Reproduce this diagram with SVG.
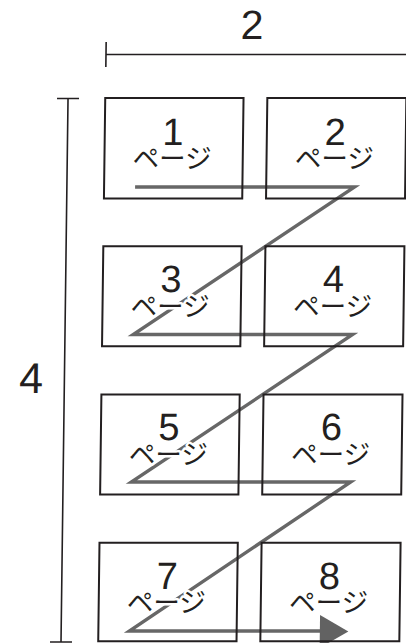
<svg xmlns="http://www.w3.org/2000/svg" width="406" height="643" viewBox="0 0 406 643">
<style>
.dim{stroke:#231f20;stroke-width:1.6;fill:none}
.dimtxt{font-family:"Liberation Sans",Arial,sans-serif;fill:#231f20;text-anchor:middle}
.box{fill:none;stroke:#231f20;stroke-width:2}
.lbl{fill:#231f20;text-anchor:middle;stroke:#fff;stroke-width:5;stroke-linejoin:round;paint-order:stroke}
.num{font-family:"Liberation Sans",Arial,sans-serif;font-size:38px}
.kana{font-family:"Noto Sans CJK JP","Noto Sans CJK SC",sans-serif;font-size:26.5px}
.flow{fill:none;stroke:#676767;stroke-width:3.4;stroke-linejoin:miter;stroke-linecap:butt}
.head{fill:#626262}
</style>
<rect width="406" height="643" fill="#fff"/>
<g transform="skewX(-0.74)">
<g id="dimensions">
<path class="dim" d="M106.7 42 V67 M106.7 54.5 H420"/>
<text class="dimtxt" x="252.5" y="39" font-size="41">2</text>
<path class="dim" d="M69.3 98 V642 M58.3 98.5 H80.3 M58.3 642 H80.3"/>
<text class="dimtxt" x="36" y="393" font-size="43">4</text>
</g>
<g id="connectors">
<path class="flow" d="M137.5 187 H357 L137.5 334.5 H357 L137.5 482 H357 L137.5 631 H330"/>
<polygon class="head" points="328,615 356.5,631.5 328,648"/>
</g>
<g id="page1">
<rect class="box" x="106.5" y="98" width="138.3" height="100.5"/>
<text class="lbl"><tspan class="num" x="174.6" y="145">1</tspan><tspan class="kana" x="174.2" y="168">ページ</tspan></text>
</g>
<g id="page2">
<rect class="box" x="268.6" y="98" width="139" height="100.5"/>
<text class="lbl"><tspan class="num" x="337" y="145">2</tspan><tspan class="kana" x="336.5" y="168">ページ</tspan></text>
</g>
<g id="page3">
<rect class="box" x="106.5" y="246.3" width="138.3" height="100"/>
<text class="lbl"><tspan class="num" x="174.6" y="292.5">3</tspan><tspan class="kana" x="174.2" y="316">ページ</tspan></text>
</g>
<g id="page4">
<rect class="box" x="268.6" y="246.3" width="139" height="100"/>
<text class="lbl"><tspan class="num" x="337" y="292.5">4</tspan><tspan class="kana" x="336.5" y="316">ページ</tspan></text>
</g>
<g id="page5">
<rect class="box" x="106.5" y="394.5" width="138.3" height="100"/>
<text class="lbl"><tspan class="num" x="174.6" y="440.5">5</tspan><tspan class="kana" x="174.2" y="464">ページ</tspan></text>
</g>
<g id="page6">
<rect class="box" x="268.6" y="394.5" width="139" height="100"/>
<text class="lbl"><tspan class="num" x="337" y="440.5">6</tspan><tspan class="kana" x="336.5" y="464">ページ</tspan></text>
</g>
<g id="page7">
<rect class="box" x="106.5" y="542.7" width="138.3" height="98.5"/>
<text class="lbl"><tspan class="num" x="174.6" y="589">7</tspan><tspan class="kana" x="174.2" y="612.5">ページ</tspan></text>
</g>
<g id="page8">
<rect class="box" x="268.6" y="542.7" width="139" height="98.5"/>
<text class="lbl"><tspan class="num" x="337" y="589">8</tspan><tspan class="kana" x="336.5" y="612.5">ページ</tspan></text>
</g>
</g>
</svg>
